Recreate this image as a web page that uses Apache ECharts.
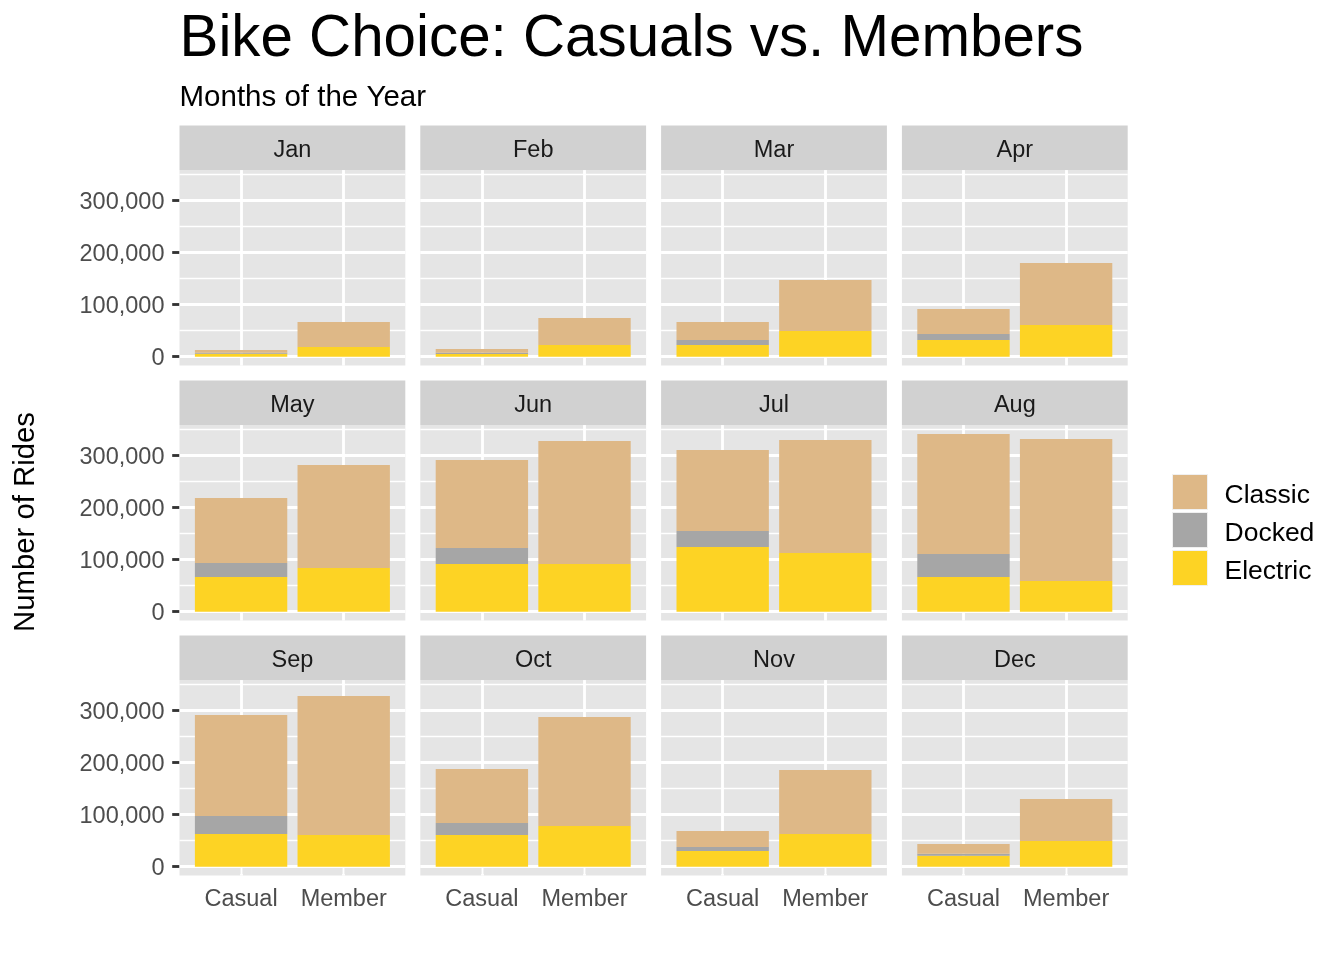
<!DOCTYPE html>
<html>
<head>
<meta charset="utf-8">
<script src="https://cdn.jsdelivr.net/npm/echarts@6/dist/echarts.min.js"></script>
<style>
  html, body { margin: 0; padding: 0; background: #ffffff; }
  #chart { width: 1344px; height: 960px; }
</style>
</head>
<body>
<div id="chart"></div>
<script>
// ---------------- data ----------------
const months = ['Jan', 'Feb', 'Mar', 'Apr', 'May', 'Jun', 'Jul', 'Aug', 'Sep', 'Oct', 'Nov', 'Dec'];
const riderTypes = ['Casual', 'Member'];
const bikeTypes = ['Classic', 'Docked', 'Electric'];

const casualElectric = [5800, 5100, 22400, 32100, 66700, 91700, 124400, 66700, 62800, 60900, 30100, 21200];
const casualDocked   = [1900, 2600, 9700, 11500, 26900, 30700, 30700, 44200, 34600, 23100, 7700, 3800];
const casualClassic  = [5100, 7000, 34600, 48100, 125000, 169300, 155800, 230800, 194300, 103800, 30800, 18600];

const memberElectric = [18600, 22400, 49400, 60900, 84000, 91700, 112800, 59000, 60900, 78200, 62800, 49400];
const memberDocked   = [0, 0, 0, 0, 0, 0, 0, 0, 0, 0, 0, 0];
const memberClassic  = [48100, 52000, 98000, 119200, 198000, 236500, 217300, 273000, 267300, 209600, 123100, 80700];

const yTickValues  = [0, 100000, 200000, 300000];
const yMinorValues = [50000, 150000, 250000, 350000];

const titleText = 'Bike Choice: Casuals vs. Members';
const subtitleText = 'Months of the Year';
const yTitleText = 'Number of Rides';

// ---------------- style / layout ----------------
const FONT = '"Liberation Sans", Arial, Helvetica, sans-serif';
const colors = { Classic: '#DEB887', Docked: '#A6A6A6', Electric: '#FDD324' };
const PANEL_BG = '#E5E5E5';
const STRIP_BG = '#D1D1D1';

const X0 = 179.5, Y0 = 170.1;
const PANEL_W = 225.8, PANEL_H = 195.5;
const COL_STEP = 240.8, ROW_STEP = 255;
const STRIP_H = 44.6;
const unit = PANEL_W / 2.2;          // ggplot discrete expansion (0.6 each side)
const MAJOR_W = 2.85, MINOR_W = 1.42;

const seriesValues = {
  Electric: [casualElectric, memberElectric],
  Docked:   [casualDocked, memberDocked],
  Classic:  [casualClassic, memberClassic]
};

const totals = months.map((m, i) => Math.max(
  casualElectric[i] + casualDocked[i] + casualClassic[i],
  memberElectric[i] + memberDocked[i] + memberClassic[i]));
const yMaxData = Math.max(...totals);
const yLo = -0.05 * yMaxData, yHi = 1.05 * yMaxData;

const fmt = v => '{t|' + Number(v).toLocaleString('en-US') + '}';

const grid = [], xAxis = [], yAxis = [], series = [], graphic = [];

months.forEach((m, i) => {
  const c = i % 4, r = Math.floor(i / 4);
  const left = X0 + c * COL_STEP;
  const top = Y0 + r * ROW_STEP;
  const bgIdx = 2 * i, dIdx = 2 * i + 1;

  // background panel grid
  grid.push({ left: left, top: top, width: PANEL_W, height: PANEL_H,
              show: true, backgroundColor: PANEL_BG, borderWidth: 0, containLabel: false });
  // data grid (narrower so category centres match ggplot's expansion)
  grid.push({ left: left + 0.1 * unit, top: top, width: 2 * unit, height: PANEL_H,
              show: false, containLabel: false });

  xAxis.push({ gridIndex: bgIdx, type: 'value', min: 0, max: 1, show: false });
  yAxis.push({
    gridIndex: bgIdx, type: 'value', min: yLo, max: yHi,
    axisLine: { show: false },
    splitLine: { show: false },
    axisTick: { show: c === 0, customValues: yTickValues, length: 7.3,
                lineStyle: { color: '#333333', width: MAJOR_W } },
    axisLabel: { show: c === 0, customValues: yTickValues, formatter: fmt,
                 fontSize: 23.5, color: '#4D4D4D', fontFamily: FONT, margin: 15,
                 rich: { t: { fontSize: 23.5, color: '#4D4D4D', fontFamily: FONT, padding: [4, 0, 0, 0] } } }
  });

  xAxis.push({
    gridIndex: dIdx, type: 'category', data: riderTypes, boundaryGap: true,
    axisLine: { show: false },
    splitLine: { show: false },
    axisTick: { show: r === 2, alignWithLabel: true, length: 7.3,
                lineStyle: { color: '#333333', width: MAJOR_W } },
    axisLabel: { show: r === 2, interval: 0, fontSize: 23.5, color: '#4D4D4D',
                 fontFamily: FONT, margin: 11.5 }
  });
  yAxis.push({ gridIndex: dIdx, type: 'value', min: yLo, max: yHi, show: false });

  // horizontal grid lines
  series.push({
    type: 'line', xAxisIndex: bgIdx, yAxisIndex: bgIdx, data: [], z: 1, silent: true,
    markLine: {
      silent: true, symbol: 'none', z: 1, animation: false,
      label: { show: false },
      lineStyle: { color: '#FFFFFF', type: 'solid' },
      data: yMinorValues.map(v => ({ yAxis: v, lineStyle: { width: MINOR_W, color: '#FFFFFF', type: 'solid' } }))
        .concat(yTickValues.map(v => ({ yAxis: v, lineStyle: { width: MAJOR_W, color: '#FFFFFF', type: 'solid' } })))
    }
  });
  // vertical grid lines at category centres
  series.push({
    type: 'line', xAxisIndex: dIdx, yAxisIndex: dIdx, data: [], z: 1, silent: true,
    markLine: {
      silent: true, symbol: 'none', z: 1, animation: false,
      label: { show: false },
      lineStyle: { color: '#FFFFFF', type: 'solid', width: MAJOR_W },
      data: riderTypes.map(t => ({ xAxis: t }))
    }
  });

  // stacked bars (Electric at bottom)
  ['Electric', 'Docked', 'Classic'].forEach(b => {
    series.push({
      type: 'bar', name: b, xAxisIndex: dIdx, yAxisIndex: dIdx,
      stack: 'month' + i, barWidth: '90%', z: 10,
      itemStyle: { color: colors[b] },
      data: [seriesValues[b][0][i], seriesValues[b][1][i]]
    });
  });

  // strip
  graphic.push({ type: 'rect', silent: true,
    shape: { x: left, y: top - STRIP_H, width: PANEL_W, height: STRIP_H },
    style: { fill: STRIP_BG } });
  graphic.push({ type: 'text', silent: true, x: left + PANEL_W / 2, y: top - STRIP_H / 2 + 3,
    style: { text: m, fill: '#1A1A1A', font: '23.5px ' + FONT, align: 'center', verticalAlign: 'middle' } });
});

// y axis title
graphic.push({ type: 'text', silent: true, x: 26, y: 522, rotation: Math.PI / 2,
  style: { text: yTitleText, fill: '#000000', font: '29.3px ' + FONT, align: 'center', verticalAlign: 'middle' } });

const option = {
  backgroundColor: '#FFFFFF',
  animation: false,
  textStyle: { fontFamily: FONT },
  title: [
    { text: titleText, left: 179.5, top: 11, padding: 0,
      textStyle: { fontSize: 58.3, fontWeight: 'normal', color: '#000000', fontFamily: FONT } },
    { text: subtitleText, left: 179.5, top: 83, padding: 0,
      textStyle: { fontSize: 29.5, fontWeight: 'normal', color: '#000000', fontFamily: FONT } }
  ],
  legend: {
    data: bikeTypes, orient: 'vertical', left: 1172, top: 474, padding: 0,
    itemWidth: 35, itemHeight: 35, itemGap: 2, icon: 'rect', selectedMode: false,
    itemStyle: { borderColor: '#F0F0F0', borderWidth: 1 },
    formatter: name => '{t|' + name + '}',
    textStyle: { fontSize: 26.5, color: '#000000', fontFamily: FONT, padding: [0, 0, 0, 12],
                 rich: { t: { fontSize: 26.5, color: '#000000', fontFamily: FONT, padding: [8, 0, 0, 0] } } }
  },
  grid, xAxis, yAxis, series, graphic
};

const chart = echarts.init(document.getElementById('chart'), null, { renderer: 'canvas' });
chart.setOption(option);
</script>
</body>
</html>
